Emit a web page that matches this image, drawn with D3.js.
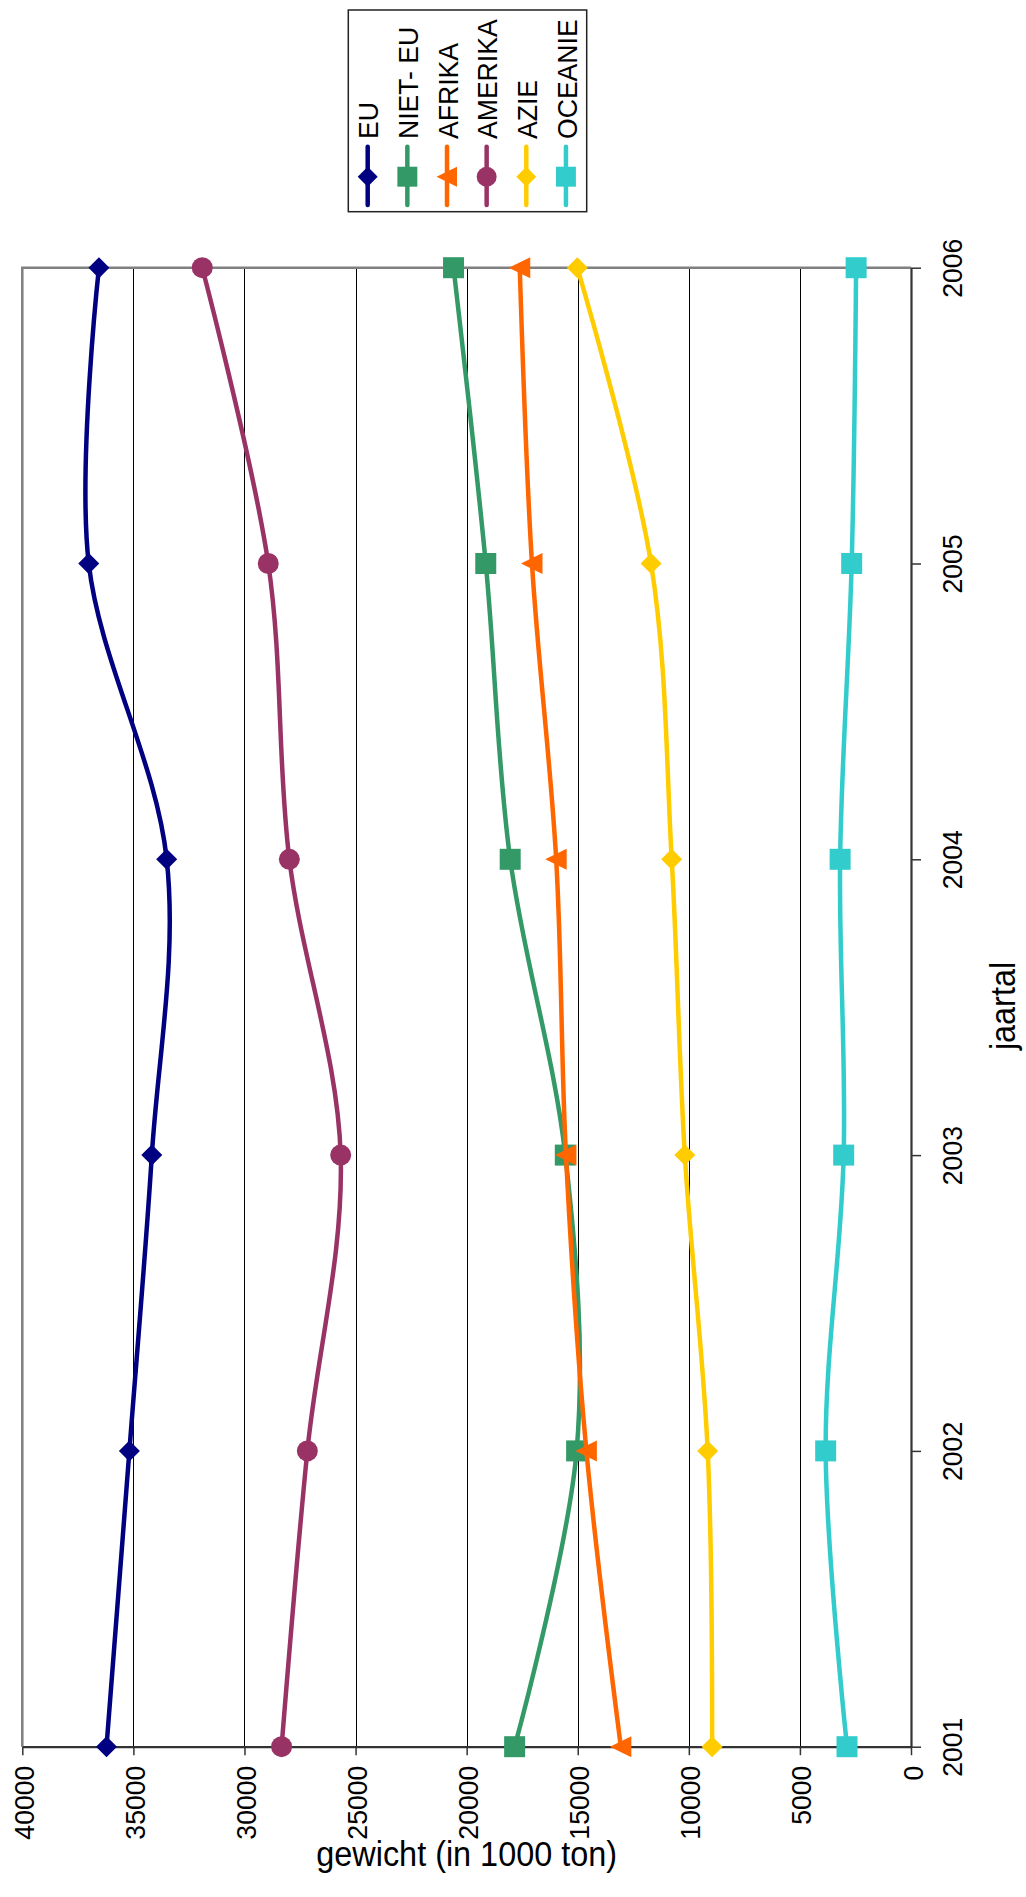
<!DOCTYPE html>
<html>
<head>
<meta charset="utf-8">
<script src="https://cdn.jsdelivr.net/npm/d3@7"></script>
<style>
  body { margin: 0; background: #fff; }
  svg { display: block; font-family: "Liberation Sans", Arial, sans-serif; }
</style>
</head>
<body>
<script>
// ---- data ----
const years = [2001, 2002, 2003, 2004, 2005, 2006];
const seriesNames = ["EU", "NIET- EU", "AFRIKA", "AMERIKA", "AZIE", "OCEANIE"];
const EU      = [36210, 35180, 34170, 33500, 37010, 36550];
const NIET_EU = [17840, 15050, 15560, 18040, 19140, 20590];
const AFRIKA  = [13060, 14610, 15530, 15970, 17060, 17610];
const AMERIKA = [28330, 27170, 25670, 27980, 28930, 31900];
const AZIE    = [ 8950,  9150, 10180, 10770, 11700, 15020];
const OCEANIE = [ 2880,  3840,  3030,  3190,  2670,  2470];
const valueTicks = [0, 5000, 10000, 15000, 20000, 25000, 30000, 35000, 40000];
const yearTicks = years;
const axisTitleValue = "gewicht (in 1000 ton)";
const axisTitleYear = "jaartal";

const seriesValues = [EU, NIET_EU, AFRIKA, AMERIKA, AZIE, OCEANIE];
const colors = ["#000080", "#339966", "#FF6600", "#993366", "#FFCC00", "#33CCCC"];
const markers = ["diamond", "square", "triangle", "circle", "diamond", "square"];

// ---- layout ----
const W = 1026, H = 1897;
const plot = { left: 22.3, right: 911, top: 267.7, bottom: 1746.7 };

const svg = d3.select("body").append("svg").attr("width", W).attr("height", H);

const x = d3.scaleLinear().domain([0, 40000]).range([plot.right, plot.left]);
const y = d3.scaleLinear().domain([2001, 2006]).range([plot.bottom, plot.top]);

// gridlines
svg.append("g").selectAll("line")
  .data(valueTicks.filter(v => v > 0 && v < 40000))
  .join("line")
  .attr("x1", d => Math.round(x(d)) + 0.5).attr("x2", d => Math.round(x(d)) + 0.5)
  .attr("y1", plot.top).attr("y2", plot.bottom)
  .attr("stroke", "#000").attr("stroke-width", 1);

// plot border (top & left)
svg.append("path")
  .attr("d", `M${plot.left},${plot.bottom} L${plot.left},${plot.top} L${plot.right},${plot.top}`)
  .attr("fill", "none").attr("stroke", "#808080").attr("stroke-width", 2.5);

// value axis (bottom)
const fs = 28;
const gx = svg.append("g").attr("transform", `translate(0,${plot.bottom})`)
  .call(d3.axisBottom(x).tickValues(valueTicks).tickFormat(d3.format("d")).tickSize(8.5).tickSizeOuter(0));
gx.select(".domain").attr("stroke", "#333").attr("stroke-width", 2.2);
gx.selectAll(".tick line").attr("stroke", "#333").attr("stroke-width", 1.5);
gx.selectAll(".tick text")
  .attr("x", 0).attr("y", 0).attr("dy", null)
  .attr("text-anchor", "end")
  .attr("transform", "translate(11,19) rotate(-90) scale(0.95,1)")
  .attr("font-size", fs).attr("font-family", "Liberation Sans, Arial, sans-serif").attr("fill", "#000");

// year axis (right)
const gy = svg.append("g").attr("transform", `translate(${plot.right},0)`)
  .call(d3.axisRight(y).tickValues(yearTicks).tickFormat(d3.format("d")).tickSize(10).tickSizeOuter(0));
gy.select(".domain").attr("stroke", "#333").attr("stroke-width", 2.2);
gy.selectAll(".tick line").attr("stroke", "#333").attr("stroke-width", 1.5);
gy.selectAll(".tick text")
  .attr("x", 0).attr("y", 0).attr("dy", null)
  .attr("text-anchor", "middle")
  .attr("transform", "translate(51,0) rotate(-90) scale(0.95,1)")
  .attr("font-size", fs).attr("font-family", "Liberation Sans, Arial, sans-serif").attr("fill", "#000");

// axis titles
svg.append("text")
  .attr("transform", `translate(${(plot.left + plot.right) / 2},1866) scale(0.9,1)`)
  .attr("text-anchor", "middle").attr("font-size", 36).text(axisTitleValue);
svg.append("text")
  .attr("transform", `translate(1015,1006) rotate(-90) scale(0.9,1)`)
  .attr("text-anchor", "middle").attr("font-size", 36).text(axisTitleYear);

// marker shapes
function markerPath(type) {
  switch (type) {
    case "diamond": return "M0,-10.5 L10.5,0 L0,10.5 L-10.5,0 Z";
    case "square": return "M-10.5,-10.5 L10.5,-10.5 L10.5,10.5 L-10.5,10.5 Z";
    case "triangle": return "M-11,0 L10.5,-10.5 L10.5,10.5 Z";
    case "circle": return "M-10.5,0 A10.5,10.5 0 1,0 10.5,0 A10.5,10.5 0 1,0 -10.5,0 Z";
  }
}

const line = d3.line()
  .x(d => x(d.v)).y(d => y(d.year))
  .curve(d3.curveCardinal.tension(0));

seriesValues.forEach((vals, i) => {
  const pts = years.map((yr, j) => ({ year: yr, v: vals[j] }));
  const g = svg.append("g");
  g.append("path").datum(pts).attr("d", line)
    .attr("fill", "none").attr("stroke", colors[i]).attr("stroke-width", 4.5)
    .attr("stroke-linejoin", "round").attr("stroke-linecap", "round");
  g.selectAll("path.m").data(pts).join("path").attr("class", "m")
    .attr("d", markerPath(markers[i]))
    .attr("transform", d => `translate(${x(d.v)},${y(d.year)})`)
    .attr("fill", colors[i]);
});

// legend
const legend = svg.append("g");
legend.append("rect")
  .attr("x", 348.3).attr("y", 10).attr("width", 238.4).attr("height", 201.7)
  .attr("fill", "#fff").attr("stroke", "#222").attr("stroke-width", 1.5);
seriesNames.forEach((name, i) => {
  const lx = 367.7 + i * 39.65;
  legend.append("line").attr("x1", lx).attr("x2", lx).attr("y1", 146.7).attr("y2", 205)
    .attr("stroke", colors[i]).attr("stroke-width", 4.5).attr("stroke-linecap", "round");
  legend.append("path").attr("d", markerPath(markers[i]))
    .attr("transform", `translate(${lx},176.7) scale(0.95)`).attr("fill", colors[i]);
  legend.append("text")
    .attr("transform", `translate(${lx + 10.6},139) rotate(-90) scale(0.95,1)`)
    .attr("text-anchor", "start").attr("font-size", fs).text(name);
});
</script>
</body>
</html>
